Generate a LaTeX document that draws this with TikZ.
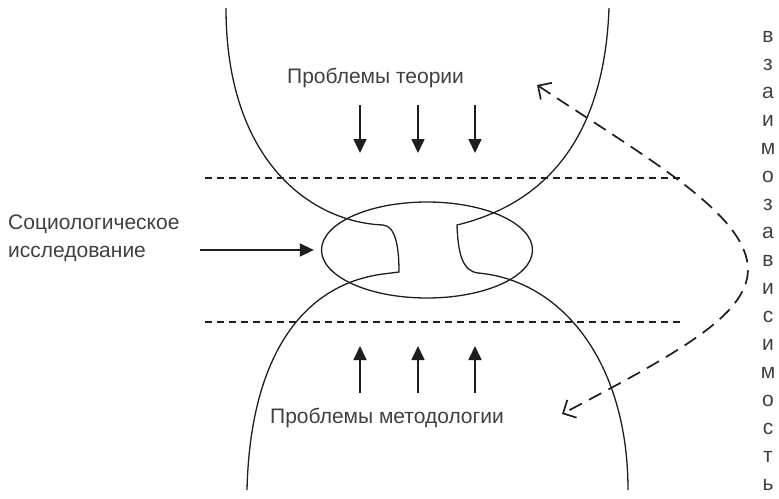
\documentclass[tikz,border=0pt]{standalone}
\usepackage{fontspec}
\setmainfont{Liberation Sans}
\usepackage{xcolor}
\usepackage{tikz}
\usetikzlibrary{arrows.meta,positioning,shapes.geometric}
\definecolor{inkline}{HTML}{1E1E1E}
\definecolor{inktext}{HTML}{404040}
\tikzset{
  bowl/.style={inkline, line width=1.3pt},
  guide/.style={inkline, line width=1.8pt, dash pattern=on 7pt off 5pt},
  pusharrow/.style={inkline, line width=1.7pt, -{Triangle[length=14pt,width=13pt]}},
  linkarrow/.style={inkline, line width=1.7pt, dash pattern=on 14pt off 8pt,
    {Straight Barb[length=10pt,width=20pt,line width=1.7pt]}-{Straight Barb[length=10pt,width=20pt,line width=1.7pt]}},
  labeltext/.style={text=inktext, inner sep=0pt, font=\fontsize{21pt}{28pt}\selectfont}
}

\begin{document}
\begin{tikzpicture}[x=1pt, y=-1pt]
  \useasboundingbox (0,0) rectangle (779,498);
  \node[bowl, draw, ellipse, minimum width=211pt, minimum height=96pt, inner sep=0pt] (study) at (427,250) {};
  \draw[bowl] (226,8) .. controls (226,160) and (310,222) .. (383,225)
    .. controls (395,226) and (399,245) .. (399,272) -- (383,274)
    .. controls (300,285) and (250,360) .. (247,490);
  \draw[bowl] (609,8) .. controls (605,120) and (560,200) .. (457,225)
    .. controls (458,255) and (463,271) .. (478,273)
    .. controls (560,280) and (628,360) .. (628,490);
  \coordinate (guideA1) at (205,178);
  \coordinate (guideA2) at (682,178);
  \coordinate (guideB1) at (205,322);
  \coordinate (guideB2) at (682,322);
  \draw[guide] (guideA1) -- (guideA2);
  \draw[guide] (guideB1) -- (guideB2);
  \node[labeltext, anchor=base west] (theory) at (287,83) {Проблемы теории};
  \node[labeltext, anchor=base west] (method) at (270,423) {Проблемы методологии};
  \node[labeltext, anchor=north west, align=left] (socio) at (8,215) {Социологическое\\исследование};
  \foreach \x [count=\i] in {360,418,475} {
    \coordinate (top\i) at (\x,105);
    \coordinate (topend\i) at (\x,153);
    \coordinate (low\i) at (\x,393);
    \coordinate (lowend\i) at (\x,346);
    \draw[pusharrow] (top\i) -- (topend\i);
    \draw[pusharrow] (low\i) -- (lowend\i);
  }
  \coordinate (feed) at (200,250);
  \draw[pusharrow, shorten >=7pt] (feed) -- (study.west);
  \coordinate (linktop) at (537,85);
  \coordinate (linkturn) at (748,270);
  \coordinate (linkbot) at (562,414);
  \draw[linkarrow] (linktop) .. controls (650,160) and (748,215) .. (linkturn)
    .. controls (747,315) and (680,352) .. (linkbot);
  \foreach \ch [count=\i from 0] in {в,з,а,и,м,о,з,а,в,и,с,и,м,о,с,т,ь} {
    \node[labeltext, anchor=base] (word\i) at (768,42+28*\i) {\ch};
  }
\end{tikzpicture}
\end{document}
